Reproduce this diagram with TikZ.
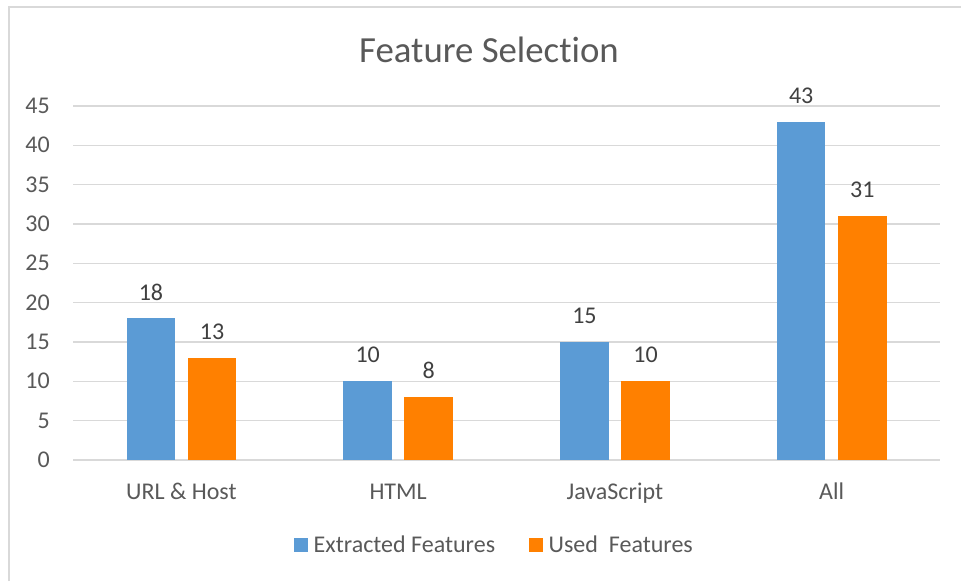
\documentclass[tikz,border=0pt]{standalone}
\usepackage{fontspec}
\setmainfont[Ligatures=NoCommon]{Carlito}
\definecolor{gridgray}{HTML}{D9D9D9}
\definecolor{axistext}{HTML}{595959}
\definecolor{labeltext}{HTML}{404040}
\definecolor{extracted}{HTML}{5B9BD5}
\definecolor{used}{HTML}{FF8000}
\begin{document}
\begin{tikzpicture}[x=1pt,y=-1pt,
  gridline/.style={draw=gridgray,line width=1.4pt},
  frameline/.style={draw=gridgray,line width=1.6pt},
  ticklabel/.style={font=\fontsize{24}{28}\selectfont,text=axistext,inner sep=0pt},
  valuelabel/.style={font=\fontsize{24}{28}\selectfont,text=labeltext,inner sep=0pt,anchor=base},
  titletext/.style={font=\fontsize{36.8}{44}\selectfont,text=axistext,inner sep=0pt,anchor=base},
  legendtext/.style={font=\fontsize{24}{28}\selectfont,text=axistext,inner sep=0pt,anchor=base west},
  swatch/.style={minimum size=14pt,inner sep=0pt,draw=none}
]
\useasboundingbox (0,0) rectangle (961,581);

% chart frame (left and top edges)
\draw[frameline] (9,581) -- (9,7) -- (961,7);

% title (kern keeps "t" and "i" as separate glyphs)
\node[titletext] (title) at (489,62.7) {Feature Select\kern0pt ion};

% horizontal grid and value axis
\foreach \v in {0,5,...,45}{
  \pgfmathsetmacro{\gy}{460-\v*7.8667}
  \draw[gridline] (73,\gy) -- (940,\gy);
  \node[ticklabel,anchor=base east] (tick\v) at (50,\gy+7.5) {\v};
}

% bars: category index, name, extracted, used
\foreach \i/\cat/\a/\b in {0/URL \& Host/18/13, 1/HTML/10/8, 2/JavaScript/15/10, 3/All/43/31}{
  \pgfmathsetmacro{\cx}{73+(\i+0.5)*216.75}
  \pgfmathsetmacro{\ta}{460-\a*7.8667}
  \pgfmathsetmacro{\tb}{460-\b*7.8667}
  \fill[extracted] (\cx-54.7,460) rectangle (\cx-6.2,\ta);
  \fill[used] (\cx+6.3,460) rectangle (\cx+55,\tb);
  \node[valuelabel] (va\i) at (\cx-30.45,\ta-18.4) {\a};
  \node[valuelabel] (vb\i) at (\cx+30.65,\tb-18.4) {\b};
  \node[valuelabel,text=axistext] (cat\i) at (\cx,499.3) {\cat};
}

% legend
\node[swatch,fill=extracted] (keyA) at (301,545) {};
\node[legendtext] (legA) at (313.5,552) {Extracted Features};
\node[swatch,fill=used] (keyB) at (536,545) {};
\node[legendtext] (legB) at (548.5,552) {Used\ \ Features};
\end{tikzpicture}
\end{document}
